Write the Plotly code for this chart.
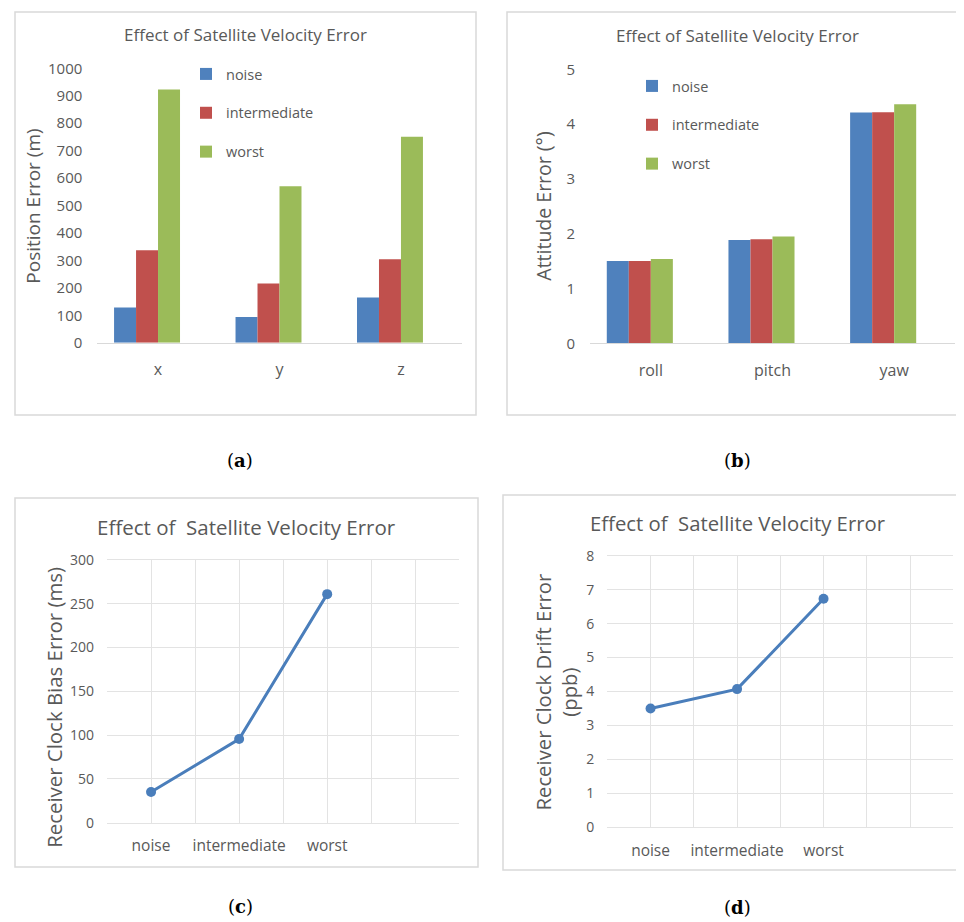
import plotly.graph_objects as go

# the page places the figure 8 px in from the top-left corner of the window
OFF = 8
W, H = 964 - OFF, 922 - OFF

# ---------------- data ----------------
series_names = ["noise", "intermediate", "worst"]
series_colors = ["#4F81BD", "#C0504D", "#9BBB59"]

pos_categories = ["x", "y", "z"]
pos_noise = [128, 94, 165]
pos_intermediate = [337, 216, 304]
pos_worst = [923, 570, 751]

att_categories = ["roll", "pitch", "yaw"]
att_noise = [1.50, 1.885, 4.21]
att_intermediate = [1.50, 1.90, 4.215]
att_worst = [1.54, 1.95, 4.36]

line_categories = ["noise", "intermediate", "worst"]
clock_bias = [35, 95.5, 261]
clock_drift = [3.5, 4.07, 6.73]

title_text = "Effect of Satellite Velocity Error"
title_text2 = "Effect of  Satellite Velocity Error"

FONT = "Open Sans"
GRAY = "#595959"
GRID = "#e3e3e3"
LINE_BLUE = "#4A7EBB"


def px_x(p):
    return (p - OFF) / W


def px_y(p):
    return 1 - (p - OFF) / H


fig = go.Figure()

# bar layout: each category holds four bar slots (the fourth one empty, as in the original)
BAR_W = 0.181
bar_offsets = [-2 * BAR_W, -BAR_W, 0.0]

# ---- panel (a) bars
for name, color, vals, off in zip(series_names, series_colors, [pos_noise, pos_intermediate, pos_worst], bar_offsets):
    fig.add_trace(go.Bar(x=pos_categories, y=vals, name=name, marker_color=color,
                         marker_line_width=0, width=BAR_W, offset=off,
                         xaxis="x", yaxis="y", legend="legend", legendgroup="a_" + name))
# ---- panel (b) bars
for name, color, vals, off in zip(series_names, series_colors, [att_noise, att_intermediate, att_worst], bar_offsets):
    fig.add_trace(go.Bar(x=att_categories, y=vals, name=name, marker_color=color,
                         marker_line_width=0, width=BAR_W, offset=off,
                         xaxis="x2", yaxis="y2", legend="legend2", legendgroup="b_" + name))

# ---- panels (c), (d) lines: categories placed on every second grid column
line_pos = [2 * i + 1 for i in range(len(line_categories))]
grid_vals = list(range(0, 9))
grid_text = [line_categories[(v - 1) // 2] if v in line_pos else "" for v in grid_vals]

fig.add_trace(go.Scatter(x=line_pos, y=clock_bias, mode="lines+markers", showlegend=False,
                         line=dict(color=LINE_BLUE, width=3), marker=dict(size=10, color=LINE_BLUE),
                         xaxis="x3", yaxis="y3"))
fig.add_trace(go.Scatter(x=line_pos, y=clock_drift, mode="lines+markers", showlegend=False,
                         line=dict(color=LINE_BLUE, width=3), marker=dict(size=10, color=LINE_BLUE),
                         xaxis="x4", yaxis="y4"))

bar_x = dict(showgrid=False, showline=True, linecolor="#d9d9d9", linewidth=1, ticks="",
             tickfont=dict(family=FONT, size=16, color=GRAY), ticklabelstandoff=12, zeroline=False,
             automargin=False)
bar_y = dict(showgrid=False, showline=False, zeroline=False, ticks="",
             tickfont=dict(family=FONT, size=15, color=GRAY), ticklabelstandoff=14, automargin=False)

line_x = dict(range=[0, 8], tickvals=grid_vals, ticktext=grid_text, showgrid=True, gridcolor=GRID,
              gridwidth=1, showline=True, linecolor=GRID, mirror=True, zeroline=False, ticks="",
              tickfont=dict(family=FONT, size=15.5, color=GRAY), ticklabelstandoff=9, automargin=False)
line_y = dict(showgrid=True, gridcolor=GRID, gridwidth=1, zeroline=False, ticks="", showline=False,
              tickfont=dict(family=FONT, size=14, color=GRAY), ticklabelstandoff=12, automargin=False)

legend_font = dict(family=FONT, size=14.5, color=GRAY)

fig.update_layout(
    width=W, height=H, margin=dict(l=0, r=0, t=0, b=0, autoexpand=False),
    paper_bgcolor="white", plot_bgcolor="white",
    barmode="group",
    xaxis=dict(domain=[px_x(97.3), px_x(461.7)], anchor="y", **bar_x),
    yaxis=dict(domain=[px_y(342.7), px_y(68.3)], anchor="x", range=[0, 1000], dtick=100, **bar_y),
    xaxis2=dict(domain=[px_x(590), px_x(955)], anchor="y2", **bar_x),
    yaxis2=dict(domain=[px_y(343.3), px_y(69.3)], anchor="x2", range=[0, 5], dtick=1, **bar_y),
    xaxis3=dict(domain=[px_x(107), px_x(459.3)], anchor="y3", **line_x),
    yaxis3=dict(domain=[px_y(822.7), px_y(560)], anchor="x3", range=[0, 300], dtick=50, **line_y),
    xaxis4=dict(domain=[px_x(607.3), px_x(953.3)], anchor="y4", **line_x),
    yaxis4=dict(domain=[px_y(827.3), px_y(555.7)], anchor="x4", range=[0, 8], dtick=1, **line_y),
    legend=dict(x=px_x(186), y=px_y(58), xanchor="left", yanchor="top", bgcolor="rgba(0,0,0,0)",
                font=legend_font, traceorder="grouped", tracegroupgap=17),
    legend2=dict(x=px_x(632), y=px_y(70), xanchor="left", yanchor="top", bgcolor="rgba(0,0,0,0)",
                 font=legend_font, traceorder="grouped", tracegroupgap=17),
    showlegend=True,
)

# panel borders
for (x0, y0, x1, y1) in [(15, 12, 476, 415), (507, 12, 961, 415), (15, 498, 478, 867), (503, 495, 962, 870)]:
    fig.add_shape(type="rect", xref="paper", yref="paper", x0=px_x(x0), x1=px_x(x1), y0=px_y(y1), y1=px_y(y0),
                  line=dict(color="#d9d9d9", width=1.5), fillcolor="rgba(0,0,0,0)", layer="below")

annots = [
    # chart titles
    dict(text=title_text, x=245.5, y=34, size=17),
    dict(text=title_text, x=737.8, y=35, size=17),
    dict(text=title_text2, x=246.3, y=526.7, size=20.5),
    dict(text=title_text2, x=737.8, y=523.3, size=20.3),
]
for a in annots:
    fig.add_annotation(text=a["text"], x=px_x(a["x"]), y=px_y(a["y"]), xref="paper", yref="paper",
                       showarrow=False, xanchor="center", yanchor="middle",
                       font=dict(family=FONT, size=a["size"], color=GRAY))

ytitles = [
    ("Position Error (m)", 32.7, 206, 19),
    ("Attitude Error (°)", 542.7, 206, 19.5),
    ("Receiver Clock Bias Error (ms)", 53.3, 707.5, 20.4),
    ("Receiver Clock Drift Error<br>(ppb)", 555.5, 692, 20.3),
]
for t, x, y, s in ytitles:
    fig.add_annotation(text=t, x=px_x(x), y=px_y(y), xref="paper", yref="paper", showarrow=False,
                       textangle=-90, xanchor="center", yanchor="middle",
                       font=dict(family=FONT, size=s, color=GRAY))

for lab, x, y in [("a", 240, 460), ("b", 737, 460), ("c", 240, 906), ("d", 737, 907)]:
    fig.add_annotation(text="(<b>%s</b>)" % lab, x=px_x(x), y=px_y(y), xref="paper", yref="paper",
                       showarrow=False, xanchor="center", yanchor="middle",
                       font=dict(family="DejaVu Serif", size=18, color="black"))

fig.write_html("out.html")
